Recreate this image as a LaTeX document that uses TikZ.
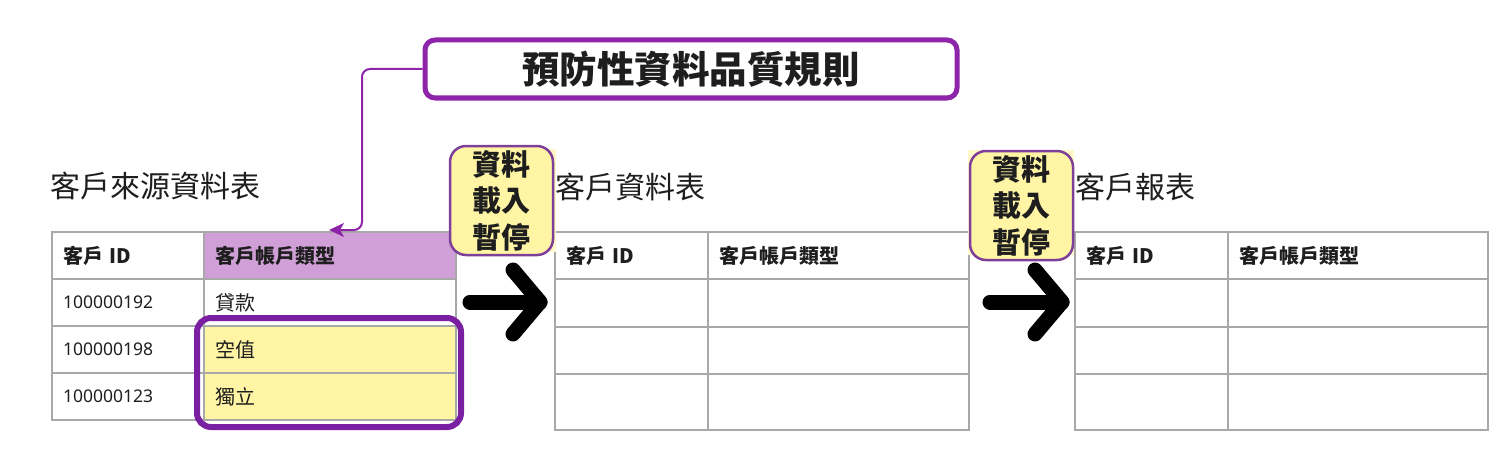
\documentclass[tikz,border=0pt]{standalone}
\usepackage{fontspec}
\setmainfont{Noto Sans CJK TC}
\newfontfamily\latinfont{Noto Sans}
\usetikzlibrary{arrows.meta,calc}
\definecolor{gridgray}{HTML}{A8A8A8}
\definecolor{hlpurple}{HTML}{7B1FA2}
\definecolor{rulepurple}{HTML}{8E24AA}
\definecolor{pausepurple}{HTML}{7E3F98}
\definecolor{hdrfill}{HTML}{D19FD8}
\definecolor{yel}{HTML}{FFF5A5}
\definecolor{paleyel}{HTML}{FFF8C8}
\definecolor{ink}{HTML}{1E1E1E}
\begin{document}
\begin{tikzpicture}[x=1pt,y=-1pt,
  every node/.style={text=ink},
  cell/.style={draw=gridgray, line width=2pt, anchor=north west, inner xsep=11pt, inner ysep=0pt, align=left},
  wd/.style 2 args={minimum width=#1, text width=#2},
  ht/.style={minimum height=#1},
  hdr/.style={font=\fontsize{20}{24}\selectfont\bfseries},
  body/.style={font=\fontsize{20}{24}\selectfont},
  num/.style={font=\fontsize{17.5}{22}\selectfont\latinfont},
  ttl/.style={font=\fontsize{30}{36}\selectfont, anchor=west, inner sep=0pt},
  pausebox/.style={draw=pausepurple, line width=2.5pt, fill=yel, rounded corners=16pt,
     minimum width=103pt, minimum height=109pt, inner sep=0pt, align=center,
     font=\fontsize{29}{36.5}\selectfont\bfseries},
  bigarrow/.style={line width=15pt, line cap=round, line join=round, black},
  conn/.style={draw=rulepurple, line width=2pt, rounded corners=8pt}
]
\useasboundingbox (0,0) rectangle (1508,452);
\fill[white] (0,0) rectangle (1508,452);

% Top rule box
\node[draw=rulepurple, line width=5pt, rounded corners=10pt, minimum width=532pt, minimum height=58pt,
      inner sep=0pt, font=\fontsize{37.5}{40}\selectfont\bfseries] (rule) at (691,69) {預防性資料品質規則};

% Titles
\node[ttl] (t1) at (50,186) {客戶來源資料表};
\node[ttl] (t2) at (555,187) {客戶資料表};
\node[ttl] (t3) at (1075,187) {客戶報表};

% Table 1
\node[cell, wd={152pt}{130pt}, ht=47pt, hdr] (a11) at (51,231) {客戶 ID};
\node[cell, wd={252pt}{230pt}, ht=47pt, hdr, fill=hdrfill] (a12) at (203,231) {客戶帳戶類型};
\node[cell, wd={152pt}{130pt}, ht=47pt, num] (a21) at (51,278) {100000192};
\node[cell, wd={252pt}{230pt}, ht=47pt, body] (a22) at (203,278) {貸款};
\node[cell, wd={152pt}{130pt}, ht=47pt, num] (a31) at (51,325) {100000198};
\node[cell, wd={252pt}{230pt}, ht=47pt, body, fill=yel] (a32) at (203,325) {空值};
\node[cell, wd={152pt}{130pt}, ht=47pt, num] (a41) at (51,372) {100000123};
\node[cell, wd={252pt}{230pt}, ht=47pt, body, fill=yel] (a42) at (203,372) {獨立};
\node[draw=hlpurple, line width=6pt, rounded corners=14pt, minimum width=264pt, minimum height=109pt,
      inner sep=0pt] (hl) at (329,372.5) {};

% Table 2
\node[cell, wd={153pt}{131pt}, ht=47pt, hdr] (b11) at (554,231) {客戶 ID};
\node[cell, wd={261pt}{239pt}, ht=47pt, hdr] (b12) at (707,231) {客戶帳戶類型};
\node[cell, wd={153pt}{131pt}, ht=48pt] (b21) at (554,278) {};
\node[cell, wd={261pt}{239pt}, ht=48pt] (b22) at (707,278) {};
\node[cell, wd={153pt}{131pt}, ht=47pt] (b31) at (554,326) {};
\node[cell, wd={261pt}{239pt}, ht=47pt] (b32) at (707,326) {};
\node[cell, wd={153pt}{131pt}, ht=56pt] (b41) at (554,373) {};
\node[cell, wd={261pt}{239pt}, ht=56pt] (b42) at (707,373) {};

% Table 3
\node[cell, wd={153pt}{131pt}, ht=47pt, hdr] (c11) at (1074,231) {客戶 ID};
\node[cell, wd={260pt}{238pt}, ht=47pt, hdr] (c12) at (1227,231) {客戶帳戶類型};
\node[cell, wd={153pt}{131pt}, ht=48pt] (c21) at (1074,278) {};
\node[cell, wd={260pt}{238pt}, ht=48pt] (c22) at (1227,278) {};
\node[cell, wd={153pt}{131pt}, ht=47pt] (c31) at (1074,326) {};
\node[cell, wd={260pt}{238pt}, ht=47pt] (c32) at (1227,326) {};
\node[cell, wd={153pt}{131pt}, ht=56pt] (c41) at (1074,373) {};
\node[cell, wd={260pt}{238pt}, ht=56pt] (c42) at (1227,373) {};

% Pause boxes
\fill[paleyel] (480,149) rectangle (556,252);
\node[pausebox] (p1) at (501.5,200.5) {資料\\載入\\暫停};
\fill[paleyel] (968,150) rectangle (1074,255);
\node[pausebox] (p2) at (1021.5,205.5) {資料\\載入\\暫停};

% Big arrows
\coordinate (a1s) at (470,302);
\coordinate (a1t) at (540,302);
\coordinate (a1u) at (513,270);
\coordinate (a1d) at (513,334);
\draw[bigarrow] (a1s) -- (a1t);
\draw[bigarrow] (a1u) -- (a1t) -- (a1d);
\coordinate (a2s) at (990,302);
\coordinate (a2t) at (1062,302);
\coordinate (a2u) at (1035,270);
\coordinate (a2d) at (1035,334);
\draw[bigarrow] (a2s) -- (a2t);
\draw[bigarrow] (a2u) -- (a2t) -- (a2d);

% Connector from rule box to header cell
\coordinate (cbend) at (362,69);
\coordinate (cdown) at (362,230);
\coordinate (ctip) at (329,230);
\draw[conn, -{Stealth[length=15pt,width=14pt,inset=4pt]}] (rule.west) -- (cbend) -- (cdown) -- (ctip);
\end{tikzpicture}
\end{document}
